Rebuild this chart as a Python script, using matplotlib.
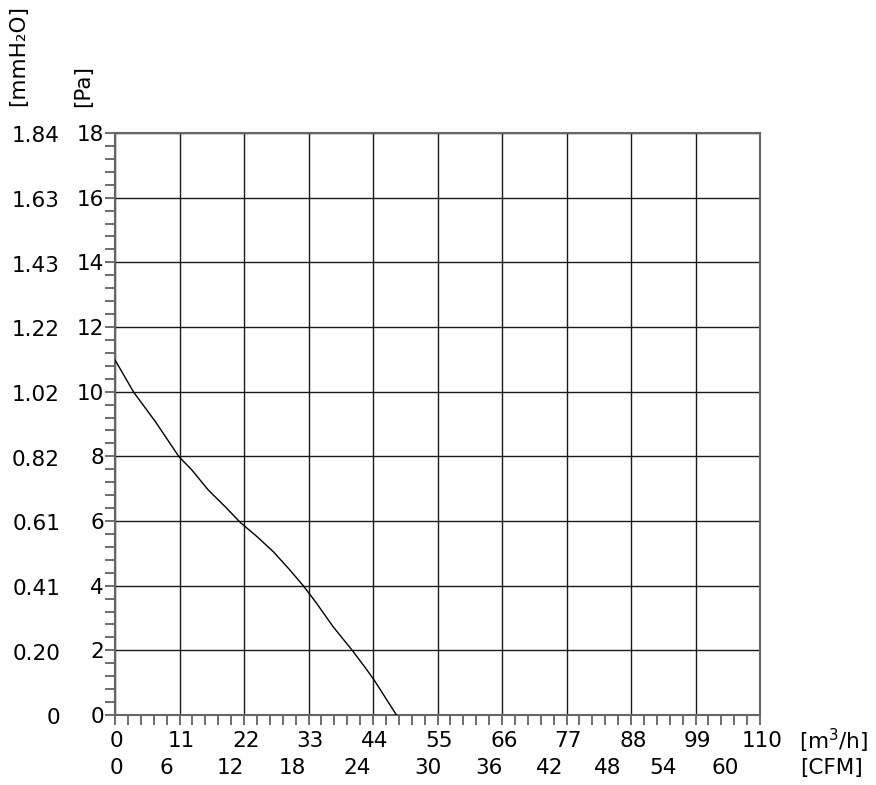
import matplotlib
matplotlib.use("Agg")
import matplotlib.pyplot as plt
import matplotlib.transforms as mtransforms
import numpy as np

# fan curve: flow [m3/h] vs static pressure [Pa]
flow_m3h = [0, 3.2, 6.9, 10.9, 13.1, 15.9, 18.8, 21.4, 24.2, 27.0, 29.8,
            32.1, 34.4, 37.2, 40.5, 42.9, 44.2, 48.0]
pressure_pa = [10.98, 9.98, 9.07, 7.99, 7.58, 6.96, 6.44, 5.95, 5.52, 5.05, 4.49,
               4.0, 3.45, 2.73, 1.99, 1.41, 1.08, 0.0]

pa_ticks = [0, 2, 4, 6, 8, 10, 12, 14, 16, 18]
mmh2o_labels = ["0", "0.20", "0.41", "0.61", "0.82", "1.02", "1.22", "1.43", "1.63", "1.84"]
m3h_ticks = [0, 11, 22, 33, 44, 55, 66, 77, 88, 99, 110]
cfm_labels = ["0", "6", "12", "18", "24", "30", "36", "42", "48", "54", "60"]
cfm_at_m3h = [0.3, 8.7, 19.6, 30.2, 41.3, 53.4, 63.7, 74.2, 84.1, 93.5, 104.1]

W, H = 876, 785
fig = plt.figure(figsize=(W / 100, H / 100), dpi=100)
ax = fig.add_axes([115 / W, 70 / H, (760 - 115) / W, (652 - 70) / H])

ax.plot(flow_m3h, pressure_pa, color="black", lw=1.0, zorder=3)

ax.set_xlim(0, 110)
ax.set_ylim(0, 18)
ax.set_xticks(m3h_ticks)
ax.set_yticks(pa_ticks)
ax.set_xticks(np.arange(0, 110.01, 2.2), minor=True)
ax.set_yticks(np.arange(0, 18.01, 0.4), minor=True)
ax.grid(True, which="major", color="#1a1a1a", lw=1.0)

fs = 15.5
ax.tick_params(axis="both", which="both", direction="out", color="#555555", width=1.2)
ax.tick_params(axis="x", which="both", length=7)
ax.tick_params(axis="y", which="both", length=7)
ax.tick_params(axis="x", which="major", labelbottom=False)
ax.set_yticklabels([str(v) for v in pa_ticks], fontsize=fs)
ax.tick_params(axis="y", which="major", pad=1)

for sp in ax.spines.values():
    sp.set_color("#666666")
    sp.set_linewidth(1.5)

# x labels in m3/h
tr_x = mtransforms.blended_transform_factory(ax.transData, fig.transFigure)
for v in m3h_ticks:
    ax.text(v + 0.3, 1 - 741 / H, str(v), transform=tr_x, ha="center", va="center",
            fontsize=fs)
# x labels in CFM
for pos, lab in zip(cfm_at_m3h, cfm_labels):
    ax.text(pos, 1 - 768 / H, lab, transform=tr_x, ha="center", va="center",
            fontsize=fs)

# mmH2O labels on the far left
tr_y = mtransforms.blended_transform_factory(fig.transFigure, ax.transData)
for v, lab in zip(pa_ticks, mmh2o_labels):
    ax.text(60 / W, v - 0.1, lab, transform=tr_y, ha="right", va="center", fontsize=fs)

# unit labels
fig.text(799 / W, 1 - 741 / H, "[m$^3$/h]", ha="left", va="center", fontsize=fs)
fig.text(800 / W, 1 - 768 / H, "[CFM]", ha="left", va="center", fontsize=fs)
fig.text(18 / W, 1 - 56 / H, "[mmH\u2082O]", rotation=90, ha="center", va="center",
         fontsize=fs)
fig.text(83 / W, 1 - 86 / H, "[Pa]", rotation=90, ha="center", va="center", fontsize=fs)

fig.savefig("out.png", dpi=100)
